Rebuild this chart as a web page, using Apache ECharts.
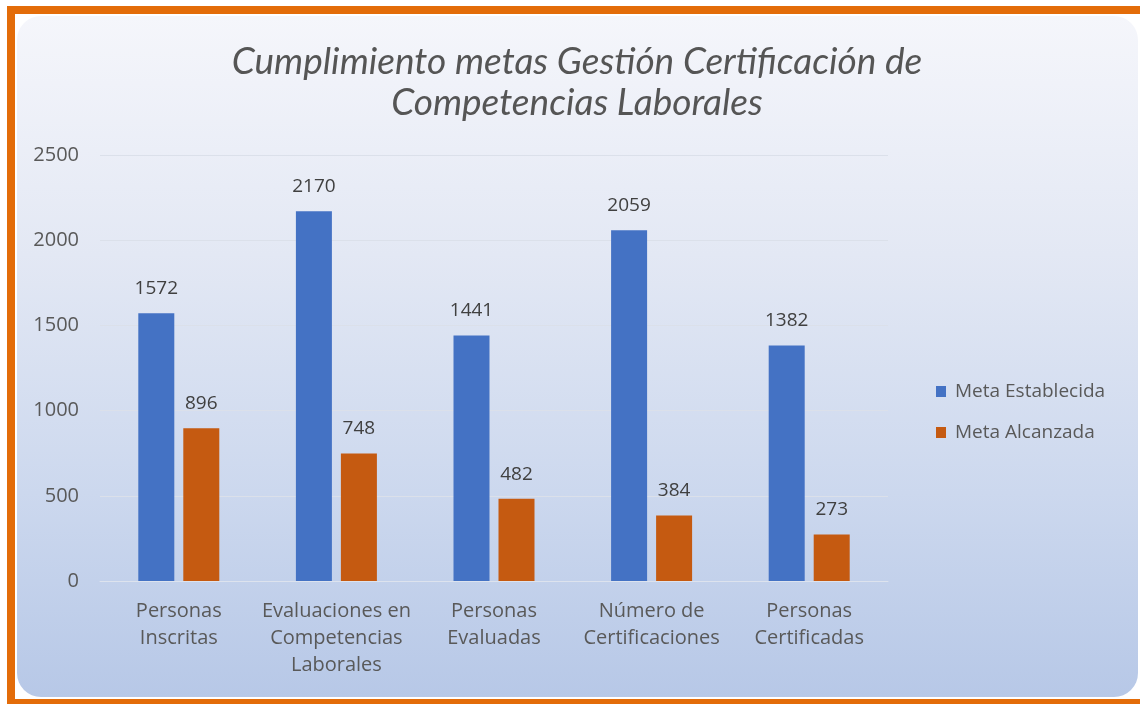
<!DOCTYPE html>
<html>
<head>
<meta charset="utf-8">
<script src="https://cdn.jsdelivr.net/npm/echarts@6/dist/echarts.min.js"></script>
<style>
  html, body { margin: 0; padding: 0; background: #ffffff; overflow: hidden; }
  #page { position: relative; width: 1140px; height: 704px; overflow: hidden; background: #ffffff; }
  #frame { position: absolute; left: 7px; top: 6px; width: 1160px; height: 698px; background: #e36c09; }
  #mat { position: absolute; left: 15px; top: 14px; width: 1160px; height: 685px; background: #ffffff; }
  #panel { position: absolute; left: 17px; top: 16px; width: 1121px; height: 681px; border-radius: 24px;
           background: linear-gradient(to bottom, #f5f6fb 0%, #e3e8f4 35%, #ccd8ee 70%, #b7c8e7 100%); }
  #chart { position: absolute; left: 0; top: 0; width: 1140px; height: 704px; }
</style>
</head>
<body>
<div id="page">
  <div id="frame"></div>
  <div id="mat"></div>
  <div id="panel"></div>
  <div id="chart"></div>
</div>
<script>
// Indicators of the labour-competency certification programme
const categories = [
  'Personas\nInscritas',
  'Evaluaciones en\nCompetencias\nLaborales',
  'Personas\nEvaluadas',
  'Número de\nCertificaciones',
  'Personas\nCertificadas'
];
const metaEstablecida = [1572, 2170, 1441, 2059, 1382];
const metaAlcanzada = [896, 748, 482, 384, 273];
const yTicks = { min: 0, max: 2500, interval: 500 };

const labelFont = '"Open Sans", "DejaVu Sans", sans-serif';

const chart = echarts.init(document.getElementById('chart'), null, { renderer: 'canvas' });
chart.setOption({
  backgroundColor: 'transparent',
  animation: false,
  title: {
    text: 'Cumplimiento metas Gestión Certificación de\nCompetencias Laborales',
    left: 572,
    top: 37,
    textAlign: 'center',
    textStyle: {
      fontFamily: 'Lato, "Open Sans", sans-serif',
      fontStyle: 'italic',
      fontWeight: 'normal',
      fontSize: 37,
      lineHeight: 41,
      color: '#555555'
    }
  },
  legend: {
    orient: 'vertical',
    left: 931,
    top: 377,
    itemWidth: 10,
    itemHeight: 11,
    itemGap: 22,
    icon: 'rect',
    textStyle: {
      fontFamily: labelFont,
      fontSize: 19,
      color: '#595959',
      padding: [0, 0, 0, 4]
    },
    data: ['Meta Establecida', 'Meta Alcanzada']
  },
  grid: { left: 100, right: 252, top: 155, bottom: 123, containLabel: false },
  xAxis: {
    type: 'category',
    data: categories,
    axisLine: { show: true, lineStyle: { color: '#dde3ee', width: 1 } },
    axisTick: { show: false },
    axisLabel: {
      interval: 0,
      margin: 17,
      fontFamily: labelFont,
      fontSize: 20,
      lineHeight: 27,
      color: '#595959'
    }
  },
  yAxis: {
    type: 'value',
    min: yTicks.min,
    max: yTicks.max,
    interval: yTicks.interval,
    axisLine: { show: false },
    axisTick: { show: false },
    splitLine: { lineStyle: { color: '#dbe0ea', width: 1 } },
    axisLabel: {
      margin: 21,
      fontFamily: labelFont,
      fontSize: 20,
      color: '#595959',
      formatter: (v) => String(v)
    }
  },
  series: [
    {
      name: 'Meta Establecida',
      type: 'bar',
      data: metaEstablecida,
      barWidth: 36,
      barGap: '25%',
      itemStyle: { color: '#4472c4' },
      label: {
        show: true,
        position: 'top',
        distance: 15,
        fontFamily: labelFont,
        fontSize: 19,
        color: '#404040'
      }
    },
    {
      name: 'Meta Alcanzada',
      type: 'bar',
      data: metaAlcanzada,
      barWidth: 36,
      barGap: '25%',
      itemStyle: { color: '#c55a11' },
      label: {
        show: true,
        position: 'top',
        distance: 15,
        fontFamily: labelFont,
        fontSize: 19,
        color: '#404040'
      }
    }
  ]
});
</script>
</body>
</html>
